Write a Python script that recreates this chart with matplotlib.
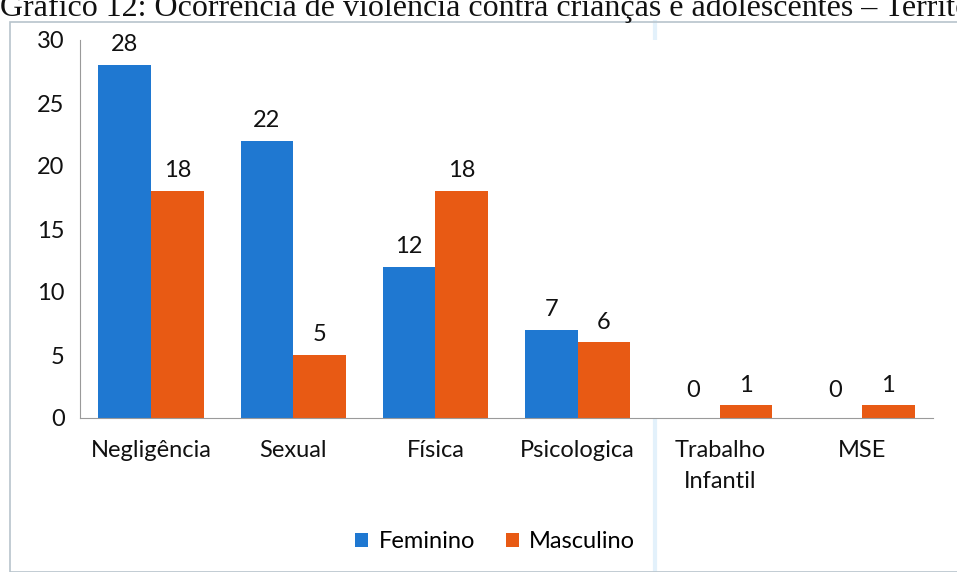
import numpy as np
import matplotlib.pyplot as plt
from matplotlib.patches import Rectangle

categorias = ['Negligência', 'Sexual', 'Física', 'Psicologica', 'Trabalho\nInfantil', 'MSE']
feminino = [28, 22, 12, 7, 0, 0]
masculino = [18, 5, 18, 6, 1, 1]
series = ['Feminino', 'Masculino']
titulo = 'Gráfico 12: Ocorrência de violência contra crianças e adolescentes – Território'

azul = '#1f78d1'
laranja = '#e85a14'
fonte = 'Lato'
tam = 17

fig = plt.figure(figsize=(9.57, 5.72), dpi=100)
ax = fig.add_axes([80 / 957, 1 - 418 / 572, 853 / 957, 378 / 572])

x = np.arange(len(categorias))
w = 0.37
b1 = ax.bar(x - w / 2, feminino, w, color=azul, label=series[0])
b2 = ax.bar(x + w / 2, masculino, w, color=laranja, label=series[1])

for bars in (b1, b2):
    for r in bars:
        h = r.get_height()
        ax.annotate('%d' % h, (r.get_x() + r.get_width() / 2, h),
                    xytext=(0, 7 if h > 0 else 12), textcoords='offset points',
                    ha='center', va='bottom', fontsize=tam, family=fonte, color='#111111')

ax.set_xlim(-0.5, len(categorias) - 0.5)
ax.set_ylim(0, 30)
ax.set_yticks(range(0, 31, 5))
ax.set_xticks(x)
ax.set_xticklabels(categorias, family=fonte, fontsize=tam, color='#111111', linespacing=1.6)
for t in ax.get_yticklabels():
    t.set_family(fonte)
    t.set_fontsize(tam)
    t.set_color('#111111')
ax.tick_params(axis='both', length=0)
ax.tick_params(axis='x', pad=16)
ax.tick_params(axis='y', pad=11)
for s in ['top', 'right']:
    ax.spines[s].set_visible(False)
ax.spines['left'].set_color('#9a9a9a')
ax.spines['bottom'].set_color('#9a9a9a')

leg = fig.legend(handles=[b1, b2], labels=series, loc='center', bbox_to_anchor=(495 / 957, 1 - 542 / 572),
                 ncol=2, frameon=False, handlelength=0.55, handleheight=0.55, handletextpad=0.45,
                 columnspacing=1.3, prop={'family': fonte, 'size': tam})

# moldura do gráfico
fig.patches.append(Rectangle((10 / 957, 0), 1.2, 1 - 22 / 572, transform=fig.transFigure,
                             fill=False, edgecolor='#b8c4cc', lw=1.2))
# faixa clara da digitalização
fig.add_artist(plt.Line2D([655 / 957, 655 / 957], [0, 1 - 22 / 572], transform=fig.transFigure,
                          color='#e3f1fb', lw=3, zorder=0))
# titulo cortado no topo, como no original
fig.text(0, 1 - 16 / 572, titulo, family='Liberation Serif', fontsize=23, ha='left', va='baseline',
         color='#111111')

fig.savefig('out.png', dpi=100)
